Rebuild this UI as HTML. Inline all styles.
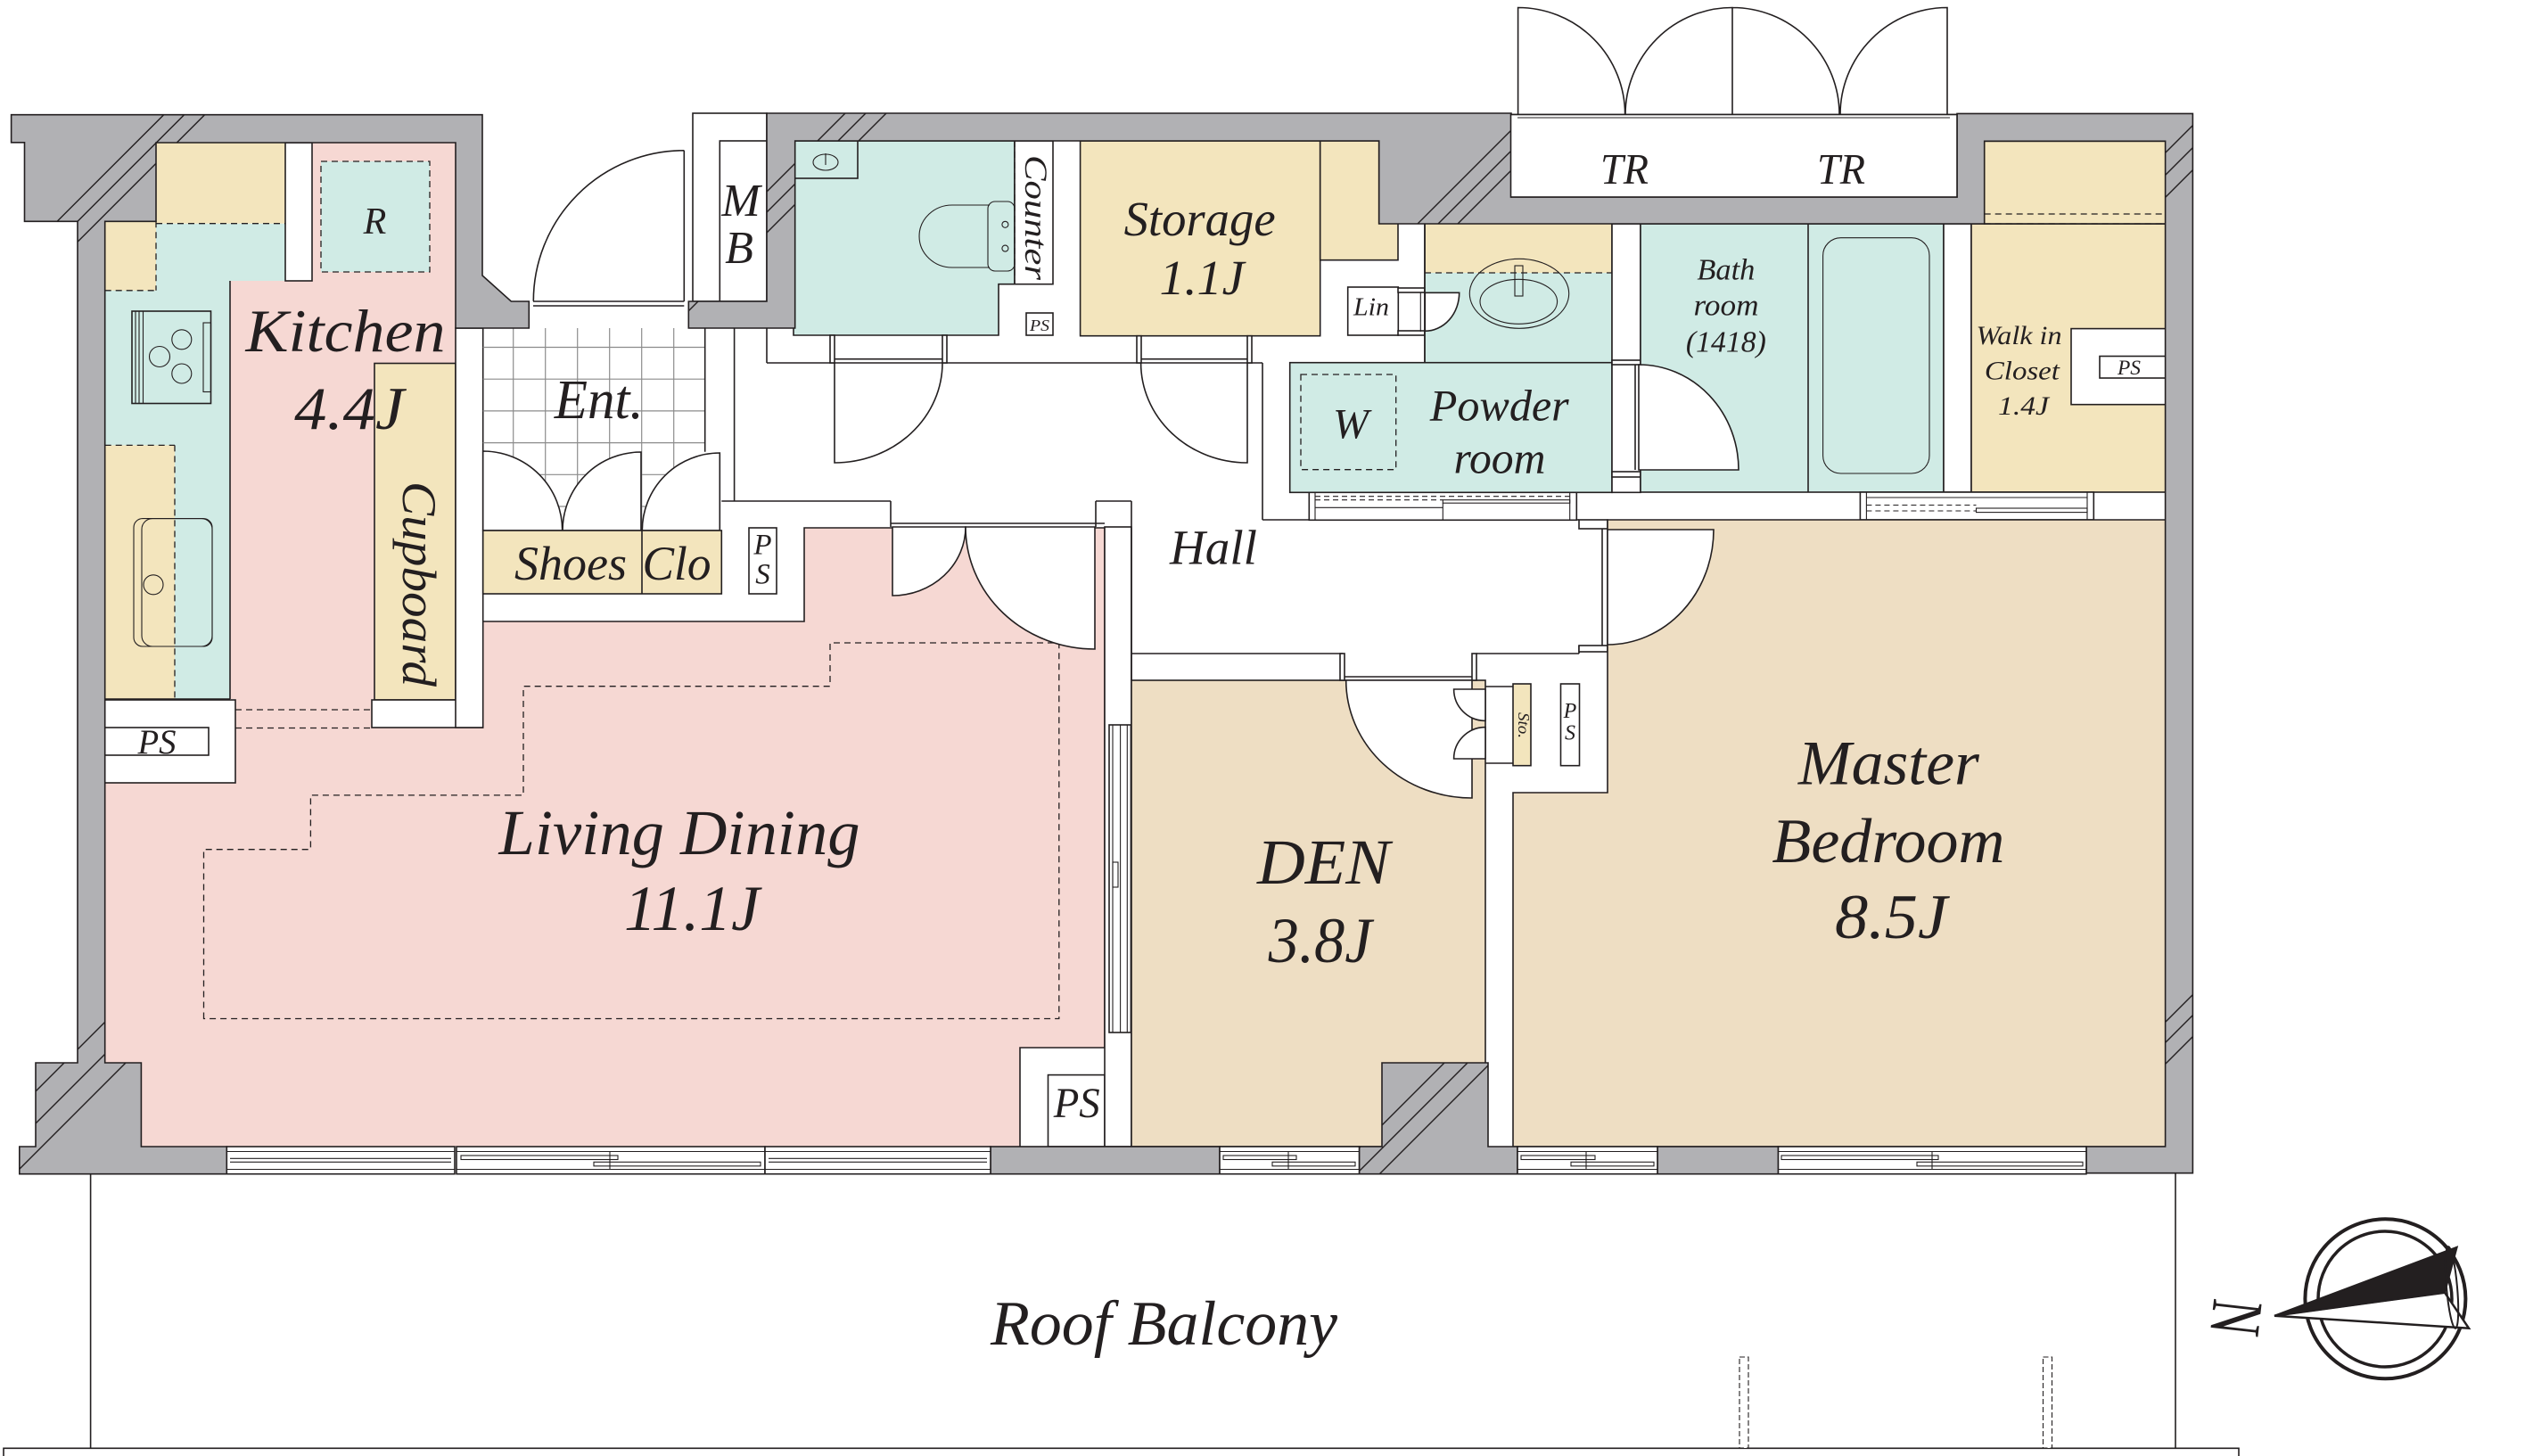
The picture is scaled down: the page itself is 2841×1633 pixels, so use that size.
<!DOCTYPE html>
<html><head><meta charset="utf-8"><style>
html,body{margin:0;padding:0;background:#fff;}
svg{display:block;}
.t{font-family:"Liberation Serif",serif;font-style:italic;fill:#231f20;}
.s{stroke:#231f20;stroke-width:1.6;}
.n{fill:none;}
.w{fill:#fff;}
.g{fill:#b1b1b4;}
.pk{fill:#f6d8d3;}
.cy{fill:#d0ebe5;}
.bg{fill:#f3e5bd;}
.rm{fill:#eedec3;}
.d{stroke:#231f20;stroke-width:1.3;stroke-dasharray:7 5;fill:none;}
.h{stroke:#231f20;stroke-width:1.4;}
.tl{stroke:#8c8c8c;stroke-width:1.2;}
.th{stroke:#231f20;stroke-width:1.1;fill:none;}
</style></head><body>
<svg xmlns="http://www.w3.org/2000/svg" width="2841" height="1633" viewBox="0 0 2841 1633">
<defs>
<clipPath id="c1"><polygon points="12.6,128.7 541,128.7 541,309 573.3,338 593.3,338 593.3,368 511,368 511,160 175,160 175,248.3 117.7,248.3 117.7,1192 158.4,1192 158.4,1286 254.3,1286 254.3,1316.7 21.8,1316.7 21.8,1286 40,1286 40,1192 87,1192 87,248.3 27.5,248.3 27.5,159.8 12.6,159.8"/></clipPath>
<clipPath id="c2"><polygon points="772.3,338 860,338 860,127 1695,127 1695,221 2195,221 2195,127.4 2459.4,127.4 2459.4,1315.7 2340,1315.7 2340,1286 2428.6,1286 2428.6,158.3 2225.7,158.3 2225.7,251 1546.7,251 1546.7,158 891.7,158 891.7,368 772.3,368"/></clipPath>
<clipPath id="c3"><polygon points="1550,1192 1669,1192 1669,1286 1702,1286 1702,1316.7 1524.5,1316.7 1524.5,1286 1550,1286"/></clipPath>
</defs>
<rect width="2841" height="1633" fill="#fff"/>

<!-- ===== KITCHEN ===== -->
<polygon class="pk" points="350,160 511,160 511,784 258,784 258,315 350,315"/>
<polygon class="cy" points="117.7,250.7 320,250.7 320,315 258,315 258,784 117.7,784"/>
<rect class="bg" x="175" y="160" width="145" height="90.7"/>
<rect class="bg" x="117.7" y="248.3" width="57.3" height="77.5"/>
<rect class="bg" x="117.7" y="499.4" width="78.3" height="284.6"/>
<line class="d" x1="175" y1="250.7" x2="320" y2="250.7"/>
<line class="d" x1="175" y1="248.3" x2="175" y2="325.8"/>
<line class="d" x1="117.7" y1="325.8" x2="175" y2="325.8"/>
<line class="d" x1="117.7" y1="499.4" x2="196" y2="499.4"/>
<line class="d" x1="196" y1="499.4" x2="196" y2="784"/>
<line class="s" x1="258" y1="315" x2="258" y2="784"/>
<line class="s" x1="117.7" y1="784" x2="258" y2="784"/>
<rect class="w s" x="320" y="160" width="30" height="155"/>
<rect x="360" y="181" width="122" height="124" class="cy" stroke="#231f20" stroke-width="1.3" stroke-dasharray="7 5"/>
<text class="t" x="420.5" y="262" font-size="42" text-anchor="middle">R</text>
<!-- stove -->
<rect class="s n" x="148" y="349" width="88.5" height="103.5"/>
<line class="th" x1="152" y1="349" x2="152" y2="452.5"/>
<line class="th" x1="156" y1="349" x2="156" y2="452.5"/>
<line class="th" x1="160.5" y1="349" x2="160.5" y2="452.5"/>
<rect class="th" x="228" y="362" width="8.5" height="77.5"/>
<circle class="th" cx="179" cy="400" r="11.5"/>
<circle class="th" cx="203.8" cy="380.8" r="11"/>
<circle class="th" cx="203.8" cy="419" r="11"/>
<!-- sink -->
<rect class="th" x="150" y="581.6" width="88" height="143.4" rx="10"/>
<rect class="th" x="159" y="581.6" width="79" height="143.4" rx="12"/>
<circle class="th" cx="172" cy="655.8" r="11"/>
<!-- cupboard -->
<rect class="bg s" x="420" y="407.5" width="91" height="377.5"/>
<text class="t" transform="translate(452,655) rotate(90)" font-size="54" text-anchor="middle" textLength="230" lengthAdjust="spacingAndGlyphs">Cupboard</text>
<text class="t" x="387.5" y="394" font-size="68" text-anchor="middle" textLength="224" lengthAdjust="spacingAndGlyphs">Kitchen</text>
<text class="t" x="391.7" y="481" font-size="68" text-anchor="middle" textLength="123" lengthAdjust="spacingAndGlyphs">4.4J</text>

<!-- ===== LIVING ===== -->
<polygon class="pk" points="264,784 417,784 417,816 541.7,816 541.7,697 902,697 902,592 1239,592 1239,1175 1144,1175 1144,1286 158.4,1286 158.4,1192 117.7,1192 117.7,878 264,878"/>
<polyline class="s n" points="541.7,816 541.7,697 902,697 902,592 1239,592 1239,1175 1144,1175 1144,1286"/>
<rect class="w s" x="417" y="785" width="124.7" height="31"/>
<rect class="w s" x="117.7" y="785" width="146.3" height="93"/>
<rect class="w s" x="117.7" y="816" width="116.3" height="31"/>
<text class="t" x="176" y="845" font-size="39" text-anchor="middle" textLength="43" lengthAdjust="spacingAndGlyphs">PS</text>
<line class="d" x1="264" y1="796" x2="417" y2="796"/>
<line class="d" x1="264" y1="816.5" x2="417" y2="816.5"/>
<rect class="w s" x="511" y="368" width="30.7" height="448"/>
<polygon class="d" points="228.5,1142.5 228.5,952.7 348.4,952.7 348.4,891.9 587,891.9 587,769.7 931,769.7 931,721 1187.8,721 1187.8,1142.5"/>
<rect class="w s" x="1175.5" y="1205.6" width="63.5" height="80.4"/>
<text class="t" x="1207.7" y="1253" font-size="48" text-anchor="middle" textLength="52" lengthAdjust="spacingAndGlyphs">PS</text>
<text class="t" x="762" y="958" font-size="72" text-anchor="middle" textLength="405" lengthAdjust="spacingAndGlyphs">Living Dining</text>
<text class="t" x="776" y="1043" font-size="72" text-anchor="middle" textLength="152" lengthAdjust="spacingAndGlyphs">11.1J</text>
<!-- living right wall strip + window -->
<rect class="w s" x="1239" y="591" width="30" height="695"/>
<rect class="w s" x="1244" y="813" width="24.4" height="345"/>
<line class="th" x1="1248" y1="813" x2="1248" y2="1158"/>
<line class="th" x1="1256.6" y1="813" x2="1256.6" y2="1158"/>
<line class="th" x1="1264.3" y1="813" x2="1264.3" y2="1158"/>
<rect class="th w" x="1248" y="967" width="6" height="28"/>
<!-- living doors -->
<line class="s" x1="999" y1="587" x2="1239" y2="587"/>
<line class="s" x1="999" y1="562" x2="999" y2="591"/>
<line class="s" x1="1229" y1="562" x2="1269" y2="562"/>
<line class="s" x1="1229" y1="562" x2="1229" y2="591"/>
<path class="w s" d="M1001,591 L1001,668 A82,77 0 0 0 1083,591 Z"/>
<path class="w s" d="M1228,591 L1228,728 A145,137 0 0 1 1083,591 Z"/>

<!-- ===== ENTRANCE ===== -->
<g>
<line class="tl" x1="575.7" y1="368" x2="575.7" y2="595"/>
<line class="tl" x1="611.7" y1="368" x2="611.7" y2="595"/>
<line class="tl" x1="647.7" y1="368" x2="647.7" y2="595"/>
<line class="tl" x1="683.7" y1="368" x2="683.7" y2="595"/>
<line class="tl" x1="719.7" y1="368" x2="719.7" y2="595"/>
<line class="tl" x1="755.7" y1="368" x2="755.7" y2="595"/>
<line class="tl" x1="541.7" y1="389.5" x2="790.7" y2="389.5"/>
<line class="tl" x1="541.7" y1="425.2" x2="790.7" y2="425.2"/>
<line class="tl" x1="541.7" y1="460.9" x2="790.7" y2="460.9"/>
<line class="tl" x1="541.7" y1="496.6" x2="790.7" y2="496.6"/>
<line class="tl" x1="541.7" y1="532.3" x2="790.7" y2="532.3"/>
<line class="tl" x1="541.7" y1="568" x2="790.7" y2="568"/>
</g>
<line class="s" x1="790.7" y1="368" x2="790.7" y2="506.8"/>
<path class="w s" d="M541.7,595 L541.7,506 A89,89 0 0 1 630.7,595 Z"/>
<path class="w s" d="M719,595 L719,507 A88,88 0 0 0 631,595 Z"/>
<path class="w s" d="M807.3,595 L807.3,508 A87,87 0 0 0 720.3,595 Z"/>
<rect class="bg s" x="541.7" y="595" width="267.6" height="71"/>
<line class="s" x1="720" y1="595" x2="720" y2="666"/>
<text class="t" x="640" y="650" font-size="54" text-anchor="middle" textLength="126" lengthAdjust="spacingAndGlyphs">Shoes</text>
<text class="t" x="759" y="650" font-size="54" text-anchor="middle" textLength="77" lengthAdjust="spacingAndGlyphs">Clo</text>
<text class="t" x="671.7" y="469" font-size="62" text-anchor="middle" textLength="100" lengthAdjust="spacingAndGlyphs">Ent.</text>
<rect class="w s" x="840" y="592" width="31" height="74"/>
<text class="t" x="855.5" y="621.6" font-size="33" text-anchor="middle">P</text>
<text class="t" x="855.5" y="654.6" font-size="33" text-anchor="middle">S</text>
<line class="s" x1="823.6" y1="368" x2="823.6" y2="562"/>
<line class="s" x1="809.3" y1="562" x2="999" y2="562"/>
<!-- entrance door -->
<line class="s" x1="598" y1="338" x2="767.3" y2="338"/>
<line class="s" x1="598" y1="343" x2="767.3" y2="343"/>
<path class="s n" d="M767.3,168.8 L767.3,338 M767.3,168.8 A169,169 0 0 0 598.3,337.8"/>
<!-- MB -->
<rect class="w s" x="777" y="127" width="83" height="211"/>
<rect class="w s" x="807.3" y="158" width="52.7" height="180"/>
<text class="t" x="831" y="242" font-size="52" text-anchor="middle">M</text>
<text class="t" x="829" y="295" font-size="52" text-anchor="middle">B</text>

<!-- ===== TOILET / STORAGE ===== -->
<polygon class="cy s" points="890,158 1138,158 1138,318.7 1120,318.7 1120,376 890,376"/>
<rect class="w s" x="1138" y="158" width="43" height="160.7"/>
<line class="d" x1="1138" y1="158" x2="1138" y2="318.7"/>
<rect class="cy s" x="890" y="158" width="72" height="42"/>
<ellipse class="th" cx="926" cy="182" rx="14" ry="9"/>
<line class="th" x1="926" y1="172" x2="926" y2="185"/>
<path class="th" d="M1110,230 L1068,230 A37,35 0 0 0 1068,300 L1110,300"/>
<rect class="th" x="1108" y="226" width="30" height="78" rx="8"/>
<circle class="th" cx="1127.4" cy="251.8" r="3.5"/>
<circle class="th" cx="1127.4" cy="278.6" r="3.5"/>
<text class="t" transform="translate(1150,244) rotate(90)" font-size="36" text-anchor="middle" textLength="140" lengthAdjust="spacingAndGlyphs">Counter</text>
<rect class="w s" x="1151" y="351" width="30" height="25"/>
<text class="t" x="1166" y="371" font-size="18" text-anchor="middle" textLength="22" lengthAdjust="spacingAndGlyphs">PS</text>
<rect class="bg s" x="1211.6" y="158" width="269.1" height="218.7"/>
<polygon class="bg s" points="1480.7,158 1546.7,158 1546.7,250.7 1568,250.7 1568,291.7 1480.7,291.7"/>
<text class="t" x="1345.6" y="264" font-size="55" text-anchor="middle" textLength="170" lengthAdjust="spacingAndGlyphs">Storage</text>
<text class="t" x="1348" y="330" font-size="55" text-anchor="middle" textLength="95" lengthAdjust="spacingAndGlyphs">1.1J</text>
<!-- hall top lines & doors -->
<line class="s" x1="860" y1="368" x2="860" y2="407"/>
<line class="s" x1="860" y1="407" x2="1416" y2="407"/>
<line class="s" x1="936" y1="402.7" x2="1057" y2="402.7"/>
<line class="s" x1="1280" y1="402.7" x2="1399" y2="402.7"/>
<rect class="w s" x="931" y="376" width="5" height="31"/>
<rect class="w s" x="1057" y="376" width="5" height="31"/>
<rect class="w s" x="1275" y="376.7" width="5" height="30.3"/>
<rect class="w s" x="1399" y="376.7" width="5" height="30.3"/>
<path class="s n" d="M936,407 L936,519 A121,112 0 0 0 1057,407"/>
<path class="s n" d="M1399,407 L1399,519 A119.6,112 0 0 1 1279.6,407"/>
<line class="s" x1="1416" y1="407" x2="1416" y2="583"/>
<line class="s" x1="1416" y1="583" x2="1771" y2="583"/>
<text class="t" x="1361" y="632.7" font-size="55" text-anchor="middle" textLength="98" lengthAdjust="spacingAndGlyphs">Hall</text>

<!-- ===== LIN / BASIN / POWDER ===== -->
<rect class="w s" x="1511.7" y="322" width="56.6" height="54"/>
<text class="t" x="1538" y="353.3" font-size="29" text-anchor="middle" textLength="40" lengthAdjust="spacingAndGlyphs">Lin</text>
<rect class="w s" x="1568" y="323" width="30" height="5"/>
<rect class="w s" x="1568" y="371" width="30" height="5"/>
<rect class="bg s" x="1598" y="250.7" width="210" height="156"/>
<rect class="cy" x="1598.8" y="306" width="208.4" height="100"/>
<line class="d" x1="1598" y1="306" x2="1808" y2="306"/>
<line class="s" x1="1598" y1="250.7" x2="1598" y2="406.7"/>
<path class="w s" d="M1598.3,328.3 L1636.7,328.3 A38.4,43 0 0 1 1598.3,371.3 Z"/>
<line class="th" x1="1593.3" y1="328" x2="1593.3" y2="372"/>
<ellipse class="th" cx="1704" cy="329.3" rx="55.7" ry="39"/>
<ellipse class="th" cx="1703.3" cy="338.3" rx="43.3" ry="25"/>
<rect class="cy th" x="1699" y="298" width="9" height="34"/>
<rect class="cy s" x="1446.7" y="406.7" width="361.3" height="145.6"/>
<rect x="1459" y="420" width="106.7" height="106.7" class="d"/>
<text class="t" x="1515" y="491.7" font-size="48" text-anchor="middle" textLength="40" lengthAdjust="spacingAndGlyphs">W</text>
<text class="t" x="1681.7" y="471.7" font-size="50" text-anchor="middle" textLength="156" lengthAdjust="spacingAndGlyphs">Powder</text>
<text class="t" x="1682" y="530.7" font-size="50" text-anchor="middle" textLength="103" lengthAdjust="spacingAndGlyphs">room</text>
<!-- powder window -->
<rect class="w s" x="1468.3" y="552.3" width="300" height="31"/>
<line class="th" x1="1475" y1="552.3" x2="1475" y2="583.3"/>
<line class="th" x1="1760.7" y1="552.3" x2="1760.7" y2="583.3"/>
<line class="th" x1="1475" y1="556.7" x2="1760.7" y2="556.7" stroke-dasharray="6 4"/>
<line class="th" x1="1475" y1="560.7" x2="1618.3" y2="560.7" stroke-dasharray="6 4"/>
<rect class="th" x="1618.3" y="560.7" width="142.4" height="3.5"/>
<line class="th" x1="1475" y1="569.3" x2="1618.3" y2="569.3"/>
<line class="th" x1="1618.3" y1="564" x2="1618.3" y2="583.3"/>

<!-- strip between powder and bath -->
<rect class="w s" x="1808" y="251" width="32" height="301.3"/>
<rect class="w s" x="1808" y="404" width="32" height="5"/>
<rect class="w s" x="1808" y="529" width="32" height="6"/>

<!-- ===== BATH ===== -->
<rect class="cy s" x="1840" y="251" width="340" height="301"/>
<line class="s" x1="2028" y1="251" x2="2028" y2="552"/>
<rect class="th" x="2044.6" y="266.7" width="119.4" height="264.3" rx="20"/>
<path class="w s" d="M1838,527 L1838,409 A112,118 0 0 1 1950,527 Z"/>
<line class="s" x1="1834" y1="409" x2="1834" y2="527"/>
<text class="t" x="1935.9" y="313.3" font-size="34" text-anchor="middle" textLength="65" lengthAdjust="spacingAndGlyphs">Bath</text>
<text class="t" x="1936" y="353.4" font-size="34" text-anchor="middle" textLength="73" lengthAdjust="spacingAndGlyphs">room</text>
<text class="t" x="1935.9" y="394.6" font-size="34" text-anchor="middle" textLength="90" lengthAdjust="spacingAndGlyphs">(1418)</text>
<rect class="w s" x="2180" y="251" width="31" height="301"/>

<!-- ===== WALK-IN ===== -->
<rect class="bg s" x="2211" y="251" width="218" height="301"/>
<rect class="bg s" x="2225.7" y="158.3" width="203.3" height="92.7"/>
<line class="d" x1="2225.7" y1="240" x2="2429" y2="240"/>
<line class="d" x1="2225.7" y1="251" x2="2429" y2="251"/>
<rect class="w s" x="2323" y="368.6" width="106" height="85.1"/>
<rect class="w s" x="2355" y="399.5" width="74" height="24.5"/>
<text class="t" x="2388" y="420" font-size="23" text-anchor="middle" textLength="26" lengthAdjust="spacingAndGlyphs">PS</text>
<text class="t" x="2264.5" y="386" font-size="30" text-anchor="middle" textLength="96" lengthAdjust="spacingAndGlyphs">Walk in</text>
<text class="t" x="2267.9" y="425.6" font-size="30" text-anchor="middle" textLength="84" lengthAdjust="spacingAndGlyphs">Closet</text>
<text class="t" x="2269.5" y="465" font-size="30" text-anchor="middle" textLength="57" lengthAdjust="spacingAndGlyphs">1.4J</text>
<!-- bath/walk-in window -->
<rect class="w s" x="2086.4" y="552" width="261.9" height="31"/>
<line class="th" x1="2093.4" y1="552" x2="2093.4" y2="583"/>
<line class="th" x1="2341" y1="552" x2="2341" y2="583"/>
<line class="th" x1="2093.4" y1="566.5" x2="2216.5" y2="566.5" stroke-dasharray="6 4"/>
<line class="th" x1="2093.4" y1="573" x2="2216.5" y2="573" stroke-dasharray="6 4"/>
<rect class="th" x="2216.5" y="570" width="124.5" height="4.6"/>
<line class="th" x1="2093.4" y1="558" x2="2341" y2="558"/>

<!-- ===== TR ===== -->
<rect class="w s" x="1694.5" y="128.5" width="500.5" height="92.5"/>
<line class="th" x1="1702" y1="132" x2="2187" y2="132"/>
<rect class="w th" x="1694.5" y="128.5" width="5" height="29"/>
<rect class="w th" x="2189" y="128.5" width="6" height="29"/>
<text class="t" x="1822" y="206" font-size="49" text-anchor="middle" textLength="54" lengthAdjust="spacingAndGlyphs">TR</text>
<text class="t" x="2065" y="206" font-size="49" text-anchor="middle" textLength="54" lengthAdjust="spacingAndGlyphs">TR</text>
<path class="s n" d="M1702.6,128.5 L1702.6,8.5 A120,120 0 0 1 1822.6,128.5"/>
<path class="s n" d="M1943,128.5 L1943,8.5 A120,120 0 0 0 1823,128.5 M1943,8.5 A120,120 0 0 1 2063,128.5"/>
<path class="s n" d="M2184,128.5 L2184,8.5 A120,120 0 0 0 2064,128.5"/>

<!-- ===== DEN ===== -->
<rect class="rm s" x="1269" y="763" width="397" height="523"/>
<line class="s" x1="1269" y1="733" x2="1506" y2="733"/>
<line class="s" x1="1269" y1="562" x2="1269" y2="763"/>
<rect class="w s" x="1503" y="733" width="5" height="30"/>
<rect class="w s" x="1651" y="733" width="5" height="30"/>
<line class="s" x1="1508" y1="759" x2="1651" y2="759"/>
<path class="w s" d="M1651,763 L1651,895 A141,132 0 0 1 1509.7,763 Z"/>
<text class="t" x="1484.5" y="991" font-size="72" text-anchor="middle" textLength="149" lengthAdjust="spacingAndGlyphs">DEN</text>
<text class="t" x="1480.6" y="1079" font-size="72" text-anchor="middle" textLength="116" lengthAdjust="spacingAndGlyphs">3.8J</text>
<line class="s" x1="1656" y1="733" x2="1771" y2="733"/>
<line class="s" x1="1771" y1="724" x2="1771" y2="733"/>
<rect class="w s" x="1771" y="724" width="32" height="7"/>
<rect class="w s" x="1771" y="583" width="32" height="10"/>
<line class="s" x1="1797" y1="593" x2="1797" y2="724"/>
<!-- sto & ps -->
<path class="w s" d="M1666,773 L1630.6,773 A35.4,35.4 0 0 0 1666,808.4 Z"/>
<path class="w s" d="M1666,851 L1630.6,851 A35.4,35.4 0 0 1 1666,815.6 Z"/>
<line class="s" x1="1666" y1="770" x2="1697" y2="770"/>
<line class="s" x1="1666" y1="856" x2="1697" y2="856"/>
<rect class="bg s" x="1697" y="767" width="20" height="91.7"/>
<text class="t" transform="translate(1703,813.5) rotate(90)" font-size="18" text-anchor="middle" textLength="29" lengthAdjust="spacingAndGlyphs">Sto.</text>
<rect class="w s" x="1750.5" y="767" width="21" height="91.7"/>
<text class="t" x="1761" y="805" font-size="24" text-anchor="middle">P</text>
<text class="t" x="1761" y="829.6" font-size="24" text-anchor="middle">S</text>

<!-- ===== MASTER ===== -->
<polygon class="rm s" points="1803,583 2429,583 2429,1286 1697,1286 1697,889 1803,889"/>
<path class="w s" d="M1803,594 L1922,594 A119,129 0 0 1 1803,723 Z"/>
<text class="t" x="2118.4" y="879.7" font-size="71" text-anchor="middle" textLength="203" lengthAdjust="spacingAndGlyphs">Master</text>
<text class="t" x="2117.9" y="967" font-size="71" text-anchor="middle" textLength="261" lengthAdjust="spacingAndGlyphs">Bedroom</text>
<text class="t" x="2121" y="1052" font-size="71" text-anchor="middle" textLength="126" lengthAdjust="spacingAndGlyphs">8.5J</text>

<!-- ===== WALLS ===== -->
<polygon class="g s" points="12.6,128.7 541,128.7 541,309 573.3,338 593.3,338 593.3,368 511,368 511,160 175,160 175,248.3 117.7,248.3 117.7,1192 158.4,1192 158.4,1286 254.3,1286 254.3,1316.7 21.8,1316.7 21.8,1286 40,1286 40,1192 87,1192 87,248.3 27.5,248.3 27.5,159.8 12.6,159.8"/>
<polygon class="g s" points="772.3,338 860,338 860,127 1695,127 1695,221 2195,221 2195,127.4 2459.4,127.4 2459.4,1315.7 2340,1315.7 2340,1286 2428.6,1286 2428.6,158.3 2225.7,158.3 2225.7,251 1546.7,251 1546.7,158 891.7,158 891.7,368 772.3,368"/>
<polygon class="g s" points="1550,1192 1669,1192 1669,1286 1702,1286 1702,1316.7 1524.5,1316.7 1524.5,1286 1550,1286"/>
<rect class="g s" x="1111" y="1286" width="257" height="30.7"/>
<rect class="g s" x="1859" y="1286" width="135.5" height="30.7"/>
<rect class="w s" x="1694.5" y="128.5" width="500.5" height="92.5"/>
<line class="th" x1="1702" y1="132" x2="2187" y2="132"/>
<text class="t" x="1822" y="206" font-size="49" text-anchor="middle" textLength="54" lengthAdjust="spacingAndGlyphs">TR</text>
<text class="t" x="2065" y="206" font-size="49" text-anchor="middle" textLength="54" lengthAdjust="spacingAndGlyphs">TR</text>
<!-- hatches -->
<g clip-path="url(#c1)" class="h">
<line x1="183.7" y1="128.7" x2="0" y2="312.4"/>
<line x1="206.6" y1="128.7" x2="0" y2="335.3"/>
<line x1="229.6" y1="128.7" x2="0" y2="358.3"/>
<line x1="1264" y1="0" x2="0" y2="1264" />
<line x1="1300" y1="0" x2="0" y2="1300"/>
<line x1="1333" y1="0" x2="0" y2="1333"/>
</g>
<g clip-path="url(#c1)" class="h"><rect x="0" y="400" width="1" height="1"/></g>
<g clip-path="url(#c2)" class="h">
<line x1="1075" y1="0" x2="700" y2="375"/>
<line x1="1098" y1="0" x2="723" y2="375"/>
<line x1="1121" y1="0" x2="746" y2="375"/>
<line x1="1841" y1="0" x2="1541" y2="300"/>
<line x1="1864" y1="0" x2="1564" y2="300"/>
<line x1="1886" y1="0" x2="1586" y2="300"/>
<line x1="2600" y1="0" x2="2350" y2="250"/>
<line x1="2625" y1="0" x2="2375" y2="250"/>
<line x1="2650" y1="0" x2="2400" y2="250"/>
<line x1="2575" y1="1000" x2="2375" y2="1200"/>
<line x1="2598" y1="1000" x2="2398" y2="1200"/>
<line x1="2622" y1="1000" x2="2422" y2="1200"/>
</g>
<g clip-path="url(#c3)" class="h">
<line x1="1712" y1="1100" x2="1412" y2="1400"/>
<line x1="1738" y1="1100" x2="1438" y2="1400"/>
<line x1="1764" y1="1100" x2="1464" y2="1400"/>
</g>

<!-- ===== BOTTOM WINDOWS ===== -->
<g>
<rect class="w s" x="254.3" y="1286" width="255.7" height="30.7"/>
<line class="th" x1="254.3" y1="1291.5" x2="510" y2="1291.5"/>
<line class="th" x1="258" y1="1299.3" x2="506" y2="1299.3"/>
<line class="th" x1="258" y1="1303.3" x2="506" y2="1303.3"/>
<line class="th" x1="254.3" y1="1311.5" x2="510" y2="1311.5"/>
<rect class="w s" x="512" y="1286" width="346" height="30.7"/>
<line class="th" x1="512" y1="1291.5" x2="858" y2="1291.5"/>
<line class="th" x1="512" y1="1311.5" x2="858" y2="1311.5"/>
<rect class="th" x="517" y="1296" width="176" height="4.5"/>
<rect class="th" x="666" y="1303.3" width="187" height="4.5"/>
<line class="th" x1="684" y1="1291.5" x2="684" y2="1311.5"/>
<rect class="w s" x="858" y="1286" width="253" height="30.7"/>
<line class="th" x1="858" y1="1291.5" x2="1111" y2="1291.5"/>
<line class="th" x1="862" y1="1299.3" x2="1107" y2="1299.3"/>
<line class="th" x1="862" y1="1303.3" x2="1107" y2="1303.3"/>
<line class="th" x1="858" y1="1311.5" x2="1111" y2="1311.5"/>
<rect class="w s" x="1368" y="1286" width="156.5" height="30.7"/>
<line class="th" x1="1368" y1="1291.5" x2="1524.5" y2="1291.5"/>
<line class="th" x1="1368" y1="1311.5" x2="1524.5" y2="1311.5"/>
<rect class="th" x="1372" y="1296" width="82" height="4.5"/>
<rect class="th" x="1427" y="1303.3" width="93" height="4.5"/>
<line class="th" x1="1445" y1="1291.5" x2="1445" y2="1311.5"/>
<rect class="w s" x="1702" y="1286" width="157" height="30.7"/>
<line class="th" x1="1702" y1="1291.5" x2="1859" y2="1291.5"/>
<line class="th" x1="1702" y1="1311.5" x2="1859" y2="1311.5"/>
<rect class="th" x="1706" y="1296" width="83" height="4.5"/>
<rect class="th" x="1762" y="1303.3" width="93" height="4.5"/>
<line class="th" x1="1779" y1="1291.5" x2="1779" y2="1311.5"/>
<rect class="w s" x="1994.5" y="1286" width="345.5" height="30.7"/>
<line class="th" x1="1994.5" y1="1291.5" x2="2340" y2="1291.5"/>
<line class="th" x1="1994.5" y1="1311.5" x2="2340" y2="1311.5"/>
<rect class="th" x="1998" y="1296" width="176" height="4.5"/>
<rect class="th" x="2150" y="1303.3" width="186" height="4.5"/>
<line class="th" x1="2167" y1="1291.5" x2="2167" y2="1311.5"/>
</g>

<!-- ===== BALCONY ===== -->
<line class="s" x1="101.6" y1="1316.7" x2="101.6" y2="1624.3"/>
<line class="s" x1="2440" y1="1315.7" x2="2440" y2="1624.3"/>
<polyline class="s n" points="4,1633 4,1624.3 2511,1624.3 2511,1633"/>
<rect x="1951" y="1522" width="10" height="102" fill="#fff" stroke="#231f20" stroke-width="1.1" stroke-dasharray="6 3"/>
<rect x="2291.5" y="1522" width="10" height="102" fill="#fff" stroke="#231f20" stroke-width="1.1" stroke-dasharray="6 3"/>
<text class="t" x="1305.5" y="1508" font-size="71" text-anchor="middle" textLength="389" lengthAdjust="spacingAndGlyphs">Roof Balcony</text>

<!-- ===== COMPASS ===== -->
<ellipse cx="2675.4" cy="1456.8" rx="90" ry="89.5" fill="none" stroke="#231f20" stroke-width="4"/>
<ellipse cx="2675" cy="1457" rx="75" ry="76" fill="none" stroke="#231f20" stroke-width="3.5"/>
<polygon points="2551,1475.7 2742,1449.7 2769,1489.7" fill="#fff" stroke="#231f20" stroke-width="2.5"/>
<polygon points="2551,1475.7 2755.7,1398.7 2742,1449.7" fill="#231f20" stroke="#231f20" stroke-width="2"/>
<ellipse cx="2750" cy="1444" rx="6" ry="46" transform="rotate(-5 2750 1444)" fill="none" stroke="#231f20" stroke-width="2"/>
<g transform="translate(2508,1478) rotate(96.5) scale(0.67,1)">
<text x="0" y="27" font-family="Liberation Serif, serif" font-size="82" text-anchor="middle" fill="#231f20">N</text>
</g>
</svg>
</body></html>
